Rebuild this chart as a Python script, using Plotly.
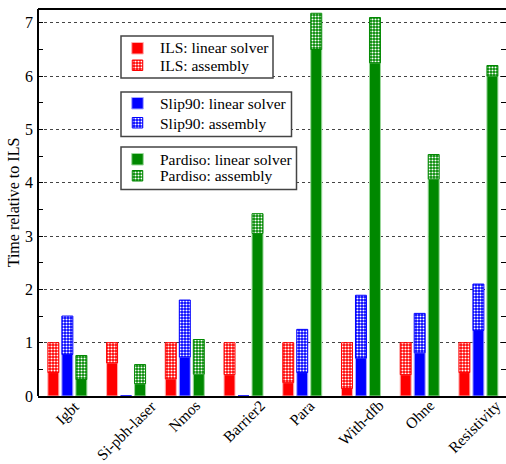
import plotly.graph_objects as go

# Benchmark cases
categories = ["Igbt", "Si-pbh-laser", "Nmos", "Barrier2", "Para", "With-dfb", "Ohne", "Resistivity"]

# Time relative to the ILS total, split into linear solver and assembly
ils_linear = [0.44, 0.62, 0.32, 0.40, 0.25, 0.14, 0.40, 0.44]
ils_assembly = [0.56, 0.38, 0.68, 0.60, 0.75, 0.86, 0.60, 0.56]

slip90_linear = [0.78, 0.0, 0.73, 0.0, 0.44, 0.71, 0.81, 1.23]
slip90_assembly = [0.72, 0.0, 1.07, 0.0, 0.81, 1.18, 0.74, 0.87]

pardiso_linear = [0.31, 0.23, 0.41, 3.05, 6.50, 6.25, 4.07, 6.00]
pardiso_assembly = [0.45, 0.36, 0.65, 0.37, 0.68, 0.85, 0.46, 0.20]

y_ticks = [0, 1, 2, 3, 4, 5, 6, 7]

FONT = "Liberation Serif"
W, H = 506, 464
M_L, M_R, M_T, M_B = 38, 0, 9, 68
X_RANGE = [-0.5, 7.47]
Y_RANGE = [0, 7.26]
positions = list(range(len(categories)))
bar_w = 0.187
step = 0.2385

# pixel <-> axis helpers, used for placing the legend boxes
plot_w = W - M_L - M_R
plot_h = H - M_T - M_B
x_per_px = (X_RANGE[1] - X_RANGE[0]) / plot_w
y_per_px = (Y_RANGE[1] - Y_RANGE[0]) / plot_h


def px_x(px):
    return X_RANGE[0] + (px - M_L) * x_per_px


def px_y(py):
    return Y_RANGE[0] + (H - M_B - py) * y_per_px


def dotted(col):
    return dict(shape=".", fgcolor="white", bgcolor=col, size=3,
                solidity=0.4, fillmode="replace")


solvers = [
    ("ILS", ils_linear, ils_assembly, "#ff0000", "#ffb0b0", -step),
    ("Slip90", slip90_linear, slip90_assembly, "#0000ff", "#a8a8ff", 0.0),
    ("Pardiso", pardiso_linear, pardiso_assembly, "#008800", "#9ad89a", step),
]

fig = go.Figure()
for name, lin, asm, col, light, shift in solvers:
    fig.add_trace(go.Bar(
        x=positions, y=lin, width=bar_w, offset=shift - bar_w / 2,
        name=f"{name}: linear solver", showlegend=False,
        marker=dict(color=col, line=dict(color=light, width=1)),
    ))
    fig.add_trace(go.Bar(
        x=positions, y=asm, base=lin, width=bar_w, offset=shift - bar_w / 2,
        name=f"{name}: assembly", showlegend=False,
        marker=dict(color=col, line=dict(color=col, width=1), pattern=dotted(col)),
    ))

# Legend: three framed boxes, each with a solid and a dotted swatch
legend_boxes = [
    # (left, top, right, bottom, swatch tops, text centres) in pixels
    (121, 36, 273, 78, (42.5, 60), (47.5, 65)),
    (121, 92, 291.5, 136.5, (97.5, 117.5), (103, 123)),
    (121, 147, 296.5, 189.5, (153.5, 170.5), (159.5, 175.5)),
]
sw_x, sw_size, text_x = 137.5, 11.5, 158

shapes = []
annotations = []
for (name, lin, asm, col, light, shift), box in zip(solvers, legend_boxes):
    x0, y0, x1, y1, sw_tops, txt_y = box
    shapes.append(dict(type="rect", xref="x", yref="y",
                       x0=px_x(x0), x1=px_x(x1), y0=px_y(y0), y1=px_y(y1),
                       fillcolor="white", line=dict(color="#444444", width=1.5),
                       layer="between"))
    fig.add_trace(go.Bar(
        x=[px_x(sw_x)], y=[sw_size * y_per_px], base=[px_y(sw_tops[0] + sw_size)],
        width=sw_size * x_per_px, showlegend=False, hoverinfo="skip",
        marker=dict(color=col, line=dict(color=light, width=1)),
    ))
    fig.add_trace(go.Bar(
        x=[px_x(sw_x)], y=[(sw_size - 1) * y_per_px],
        base=[px_y(sw_tops[1] + sw_size - 1)],
        width=(sw_size - 1) * x_per_px, showlegend=False, hoverinfo="skip",
        marker=dict(color=col, line=dict(color=col, width=1), pattern=dotted(col)),
    ))
    for label, ty in zip((f"{name}: linear solver", f"{name}: assembly"), txt_y):
        annotations.append(dict(text=label, xref="x", yref="y", x=px_x(text_x), y=px_y(ty),
                                xanchor="left", yanchor="middle", showarrow=False,
                                font=dict(family=FONT, size=15.5, color="black")))

# Category labels: rotated 45 degrees, centred under each group
# (the last one is nudged left so it stays inside the page)
for pos, cat in zip(positions, categories):
    annotations.append(dict(text=cat, xref="x", yref="paper", x=pos, y=2 / plot_h,
                            xanchor="center", yanchor="top", textangle=-45,
                            xshift=-4 if pos == positions[-1] else 0,
                            showarrow=False,
                            font=dict(family=FONT, size=15.5, color="black")))

shapes += [
    dict(type="line", xref="paper", yref="paper", x0=0, x1=0, y0=0, y1=1,
         line=dict(color="black", width=2), layer="above"),
    dict(type="line", xref="paper", yref="paper", x0=0, x1=1, y0=1, y1=1,
         line=dict(color="black", width=2), layer="above"),
]

fig.update_layout(
    width=W, height=H,
    margin=dict(l=M_L, r=M_R, t=M_T, b=M_B),
    paper_bgcolor="white", plot_bgcolor="white",
    barmode="overlay",
    font=dict(family=FONT, size=16, color="black"),
    showlegend=False,
    xaxis=dict(
        range=X_RANGE, tickvals=positions, showticklabels=False,
        ticks="", showgrid=False, zeroline=False, fixedrange=True,
        showline=True, linecolor="black", linewidth=2,
    ),
    yaxis=dict(
        range=Y_RANGE, tickvals=y_ticks, showline=False, zeroline=False,
        showgrid=True, gridcolor="#444444", griddash="dot", gridwidth=1,
        ticks="inside", ticklen=5, tickcolor="black", tickwidth=1,
        mirror="ticks", fixedrange=True, ticklabelstandoff=4,
        minor=dict(dtick=0.5, ticks="inside", ticklen=5, tickcolor="black",
                   showgrid=False),
        tickfont=dict(family=FONT, size=16),
        title=dict(text="Time relative to ILS", font=dict(family=FONT, size=16),
                   standoff=1),
    ),
    shapes=shapes,
    annotations=annotations,
)

fig.write_html("out.html")
